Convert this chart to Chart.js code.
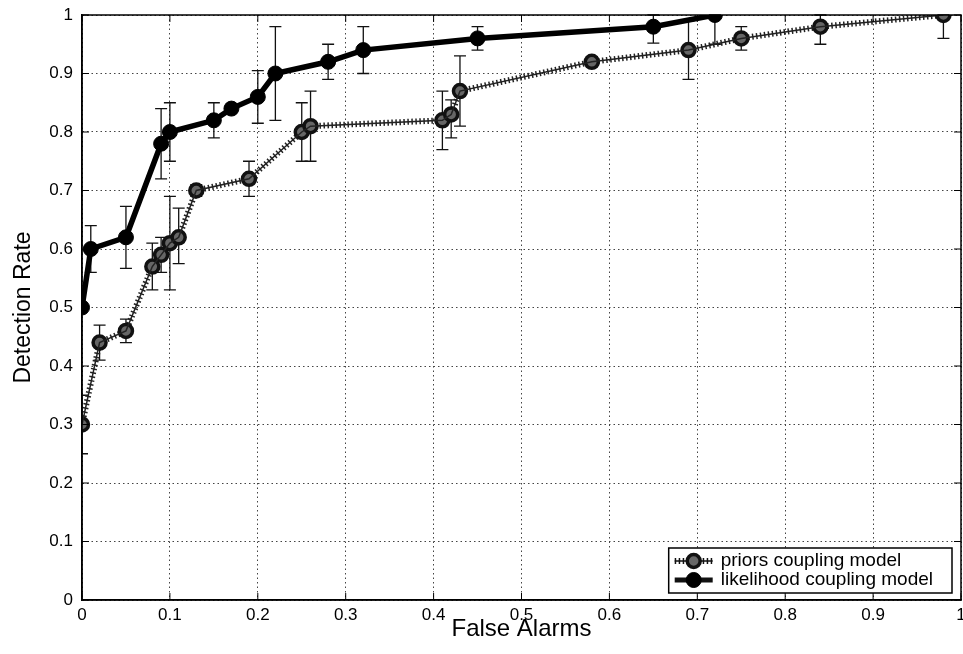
<!DOCTYPE html>
<html>
<head>
<meta charset="utf-8">
<script src="https://cdn.jsdelivr.net/npm/chart.js@4.4.1/dist/chart.umd.min.js"></script>
<style>
  html, body { margin: 0; padding: 0; background: #fff; }
  #wrap { width: 963px; height: 654px; position: relative; }
</style>
</head>
<body>
<div id="wrap"><canvas id="roc"></canvas></div>
<script>
// priors coupling model (dotted curve, open markers)
const priorsX  = [0, 0.02, 0.05, 0.08, 0.09, 0.10, 0.11, 0.13, 0.19, 0.25, 0.26, 0.41, 0.42, 0.43, 0.58, 0.69, 0.75, 0.84, 0.98];
const priorsY  = [0.30, 0.44, 0.46, 0.57, 0.59, 0.61, 0.62, 0.70, 0.72, 0.80, 0.81, 0.82, 0.83, 0.87, 0.92, 0.94, 0.96, 0.98, 1.00];
const priorsLo = [0.25, 0.41, 0.44, 0.53, 0.56, 0.53, 0.575, 0.69, 0.69, 0.75, 0.75, 0.77, 0.79, 0.81, 0.912, 0.89, 0.94, 0.95, 0.96];
const priorsHi = [0.35, 0.47, 0.48, 0.61, 0.62, 0.69, 0.67, 0.71, 0.75, 0.85, 0.87, 0.87, 0.855, 0.93, 0.929, 0.99, 0.98, 1.00, 1.00];

// likelihood coupling model (thick solid curve, filled markers)
const likeX  = [0, 0.01, 0.05, 0.09, 0.10, 0.15, 0.17, 0.20, 0.22, 0.28, 0.32, 0.45, 0.65, 0.72];
const likeY  = [0.50, 0.60, 0.62, 0.78, 0.80, 0.82, 0.84, 0.86, 0.90, 0.92, 0.94, 0.96, 0.98, 1.00];
const likeLo = [null, 0.56, 0.567, 0.72, 0.75, 0.79, null, 0.815, 0.82, 0.89, 0.90, 0.94, 0.952, 0.95];
const likeHi = [null, 0.64, 0.673, 0.84, 0.85, 0.85, null, 0.905, 0.98, 0.95, 0.98, 0.98, 1.00, 1.00];

const seriesLabels = ['priors coupling model', 'likelihood coupling model'];
const axisTicks = [0, 0.1, 0.2, 0.3, 0.4, 0.5, 0.6, 0.7, 0.8, 0.9, 1];

const FONT = "'Liberation Sans', Arial, Helvetica, sans-serif";
const toPoints = (xs, ys) => xs.map((x, i) => ({ x: x, y: ys[i] }));
const tickText = v => String(Math.round(v * 10) / 10);

// vertical error bars with caps, placed through the chart's own scales
const errorBars = {
    id: 'errorBars',
    beforeDatasetsDraw(chart) {
        const { ctx, chartArea: a, scales: { x, y } } = chart;
        const sets = [[priorsX, priorsLo, priorsHi], [likeX, likeLo, likeHi]];
        ctx.save();
        ctx.beginPath();
        ctx.rect(a.left, a.top - 1, a.right - a.left, a.bottom - a.top + 2);
        ctx.clip();
        ctx.strokeStyle = '#111';
        ctx.lineWidth = 1.3;
        sets.forEach(([xs, lo, hi]) => {
            xs.forEach((xv, i) => {
                if (lo[i] == null) return;
                const px = x.getPixelForValue(xv);
                const p1 = y.getPixelForValue(lo[i]);
                const p2 = y.getPixelForValue(hi[i]);
                ctx.beginPath();
                ctx.moveTo(px, p1); ctx.lineTo(px, p2);
                ctx.moveTo(px - 6, p1); ctx.lineTo(px + 6, p1);
                ctx.moveTo(px - 6, p2); ctx.lineTo(px + 6, p2);
                ctx.stroke();
            });
        });
        ctx.restore();
    }
};

// box around the axes, inward ticks and the legend
const frame = {
    id: 'frame',
    afterDraw(chart) {
        const { ctx, chartArea: a, scales: { x, y } } = chart;
        ctx.save();
        ctx.strokeStyle = '#000';
        ctx.lineWidth = 1.5;
        ctx.strokeRect(a.left, a.top, a.right - a.left, a.bottom - a.top);
        ctx.lineWidth = 1;
        ctx.beginPath();
        axisTicks.forEach(t => {
            const px = x.getPixelForValue(t);
            ctx.moveTo(px, a.bottom); ctx.lineTo(px, a.bottom - 7);
            ctx.moveTo(px, a.top); ctx.lineTo(px, a.top + 7);
            const py = y.getPixelForValue(t);
            ctx.moveTo(a.left, py); ctx.lineTo(a.left + 7, py);
            ctx.moveTo(a.right, py); ctx.lineTo(a.right - 7, py);
        });
        ctx.stroke();

        // legend
        ctx.font = '19px ' + FONT;
        const textW = Math.max(...seriesLabels.map(s => ctx.measureText(s).width));
        const boxRight = 952, boxTop = 548, boxBottom = 593;
        const textX = 933 - textW;
        const lineX0 = textX - 46, lineX1 = textX - 8;
        const boxLeft = lineX0 - 6;
        ctx.fillStyle = '#fff';
        ctx.fillRect(boxLeft, boxTop, boxRight - boxLeft, boxBottom - boxTop);
        ctx.lineWidth = 1.5;
        ctx.strokeStyle = '#000';
        ctx.strokeRect(boxLeft, boxTop, boxRight - boxLeft, boxBottom - boxTop);
        const rows = [561, 580];
        chart.data.datasets.filter(d => d.legendRow != null).forEach(d => {
            const ry = rows[d.legendRow];
            const mid = (lineX0 + lineX1) / 2;
            ctx.save();
            ctx.strokeStyle = '#111';
            if (d.legendRow === 0) {
                ctx.lineWidth = 1.5;
                ctx.beginPath(); ctx.moveTo(lineX0, ry); ctx.lineTo(lineX1, ry); ctx.stroke();
                ctx.lineWidth = 6; ctx.setLineDash([1.5, 2.5]);
                ctx.beginPath(); ctx.moveTo(lineX0, ry); ctx.lineTo(lineX1, ry); ctx.stroke();
            } else {
                ctx.lineWidth = 5;
                ctx.beginPath(); ctx.moveTo(lineX0, ry); ctx.lineTo(lineX1, ry); ctx.stroke();
            }
            ctx.restore();
            ctx.beginPath();
            ctx.arc(mid, ry, d.pointRadius, 0, Math.PI * 2);
            ctx.fillStyle = d.pointBackgroundColor;
            ctx.fill();
            ctx.lineWidth = d.pointBorderWidth;
            ctx.strokeStyle = d.pointBorderColor;
            ctx.stroke();
            ctx.fillStyle = '#000';
            ctx.textBaseline = 'middle';
            ctx.textAlign = 'left';
            ctx.fillText(seriesLabels[d.legendRow], textX, ry);
        });
        ctx.restore();
    }
};

const priorsPts = toPoints(priorsX, priorsY);
const likePts = toPoints(likeX, likeY);

new Chart(document.getElementById('roc'), {
    type: 'line',
    data: {
        datasets: [
            {
                // thin core of the dotted priors curve
                data: priorsPts,
                borderColor: '#222',
                borderWidth: 1.5,
                pointRadius: 0,
                tension: 0
            },
            {
                // cross hatching of the priors curve plus its markers
                legendRow: 0,
                data: priorsPts,
                borderColor: '#222',
                borderWidth: 6,
                borderDash: [1.5, 2.5],
                borderCapStyle: 'butt',
                pointRadius: 6.5,
                pointBorderWidth: 3.5,
                pointBorderColor: '#111',
                pointBackgroundColor: '#666',
                tension: 0
            },
            {
                legendRow: 1,
                data: likePts,
                borderColor: '#000',
                borderWidth: 5.5,
                pointRadius: 7.5,
                pointBorderWidth: 1,
                pointBorderColor: '#000',
                pointBackgroundColor: '#000',
                tension: 0
            }
        ]
    },
    options: {
        responsive: true,
        maintainAspectRatio: false,
        animation: false,
        layout: { autoPadding: false, padding: { left: 0, top: 15, right: 2, bottom: 0 } },
        plugins: {
            legend: { display: false },
            tooltip: { enabled: false }
        },
        scales: {
            x: {
                type: 'linear',
                min: 0, max: 1,
                afterFit: s => { s.height = 54; s.paddingLeft = 0; s.paddingRight = 0; },
                afterBuildTicks: s => { s.ticks = axisTicks.map(v => ({ value: v })); },
                ticks: { color: '#000', padding: 5, callback: tickText, maxRotation: 0, font: { size: 17, family: FONT } },
                grid: { color: '#444', lineWidth: 1, drawTicks: false },
                border: { color: '#000', width: 1.5, dash: [1.5, 3] },
                title: { display: true, text: 'False Alarms', color: '#000', font: { size: 24, family: FONT }, padding: { top: 0, bottom: 10 } }
            },
            y: {
                type: 'linear',
                min: 0, max: 1,
                afterFit: s => { s.width = 82; s.paddingTop = 0; s.paddingBottom = 0; },
                afterBuildTicks: s => { s.ticks = axisTicks.map(v => ({ value: v })); },
                ticks: { color: '#000', padding: 9, callback: tickText, font: { size: 17, family: FONT } },
                grid: { color: '#444', lineWidth: 1, drawTicks: false },
                border: { color: '#000', width: 1.5, dash: [1.5, 3] },
                title: { display: true, text: 'Detection Rate', color: '#000', font: { size: 23, family: FONT }, padding: { top: 10, bottom: 0 } }
            }
        }
    },
    plugins: [errorBars, frame]
});
</script>
</body>
</html>
